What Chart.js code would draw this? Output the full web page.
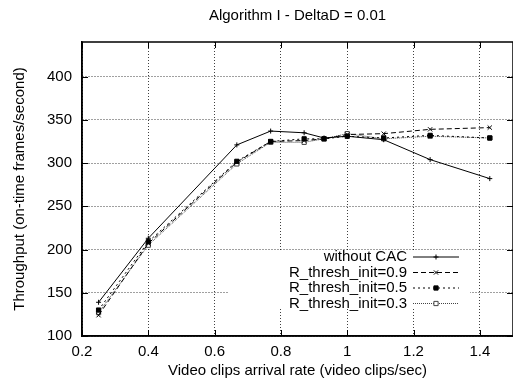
<!DOCTYPE html>
<html>
<head>
  <title>Algorithm I - DeltaD = 0.01</title>
  <style>
    body { margin: 0; overflow: hidden; background: #fff; }
    #wrap { width: 518px; height: 379px; }
  </style>
</head>
<body>
  <div id="wrap"><canvas id="chart" width="518" height="379"></canvas></div>

  <script src="https://cdn.jsdelivr.net/npm/chart.js"></script>
  <script>
    // arrival rates (video clips/sec)
    const rates = [0.25, 0.4, 0.667, 0.769, 0.87, 0.93, 1.0, 1.11, 1.25, 1.43];
    // throughput (on-time frames/second)
    const without_cac = [139, 213, 321, 337, 335, 329, 331, 327, 304, 282];
    const thresh_09 = [124, 207, 301, 325, 326, 328, 333, 334, 339, 341];
    const thresh_05 = [130, 209, 302, 325, 328, 328, 331, 329, 332, 329];
    const thresh_03 = [127, 205, 299, 324, 324, 328, 334, 328, 331, 329];
    const labels = ['without CAC', 'R_thresh_init=0.9', 'R_thresh_init=0.5', 'R_thresh_init=0.3'];
    const x_ticks = [0.2, 0.4, 0.6, 0.8, 1, 1.2, 1.4];
    const y_ticks = [100, 150, 200, 250, 300, 350, 400];

    const FONT = 'Liberation Sans, Arial, Helvetica, sans-serif';
    const pts = ys => rates.map((x, i) => ({x: x, y: ys[i]}));

    const styles = [
      {color: '#000', dash: [], pointStyle: 'cross', radius: 2.5, fill: '#000'},
      {color: '#000', dash: [5, 3], pointStyle: 'crossRot', radius: 3, fill: '#000'},
      {color: '#000', dash: [2, 3], pointStyle: 'rect', radius: 3, fill: '#000'},
      {color: '#444', dash: [1, 1], pointStyle: 'rect', radius: 3, fill: '#fff'},
    ];

    const make_dataset = (ys, i) => ({
      label: labels[i],
      data: pts(ys),
      borderColor: styles[i].color,
      borderWidth: 1,
      borderDash: styles[i].dash,
      pointStyle: styles[i].pointStyle,
      pointRadius: styles[i].radius,
      pointBorderColor: styles[i].color,
      pointBackgroundColor: styles[i].fill,
      pointBorderWidth: 1,
      tension: 0,
    });

    // gnuplot-like frame, inward ticks and key
    const frame = {
      id: 'frame',
      beforeDatasetsDraw(chart) {
        const ctx = chart.ctx;
        ctx.save();
        ctx.fillStyle = '#fff';
        ctx.fillRect(228, 252, 242, 57);
        ctx.restore();
      },
      afterDraw(chart) {
        const ctx = chart.ctx;
        const a = chart.chartArea;
        const xs = chart.scales.x, ys = chart.scales.y;
        ctx.save();
        ctx.strokeStyle = '#000';
        ctx.lineWidth = 1;
        ctx.beginPath();
        xs.ticks.forEach(t => {
          const px = Math.round(xs.getPixelForValue(t.value)) + 0.5;
          ctx.moveTo(px, a.bottom); ctx.lineTo(px, a.bottom - 6);
          ctx.moveTo(px, a.top); ctx.lineTo(px, a.top + 6);
        });
        ys.ticks.forEach(t => {
          const py = Math.round(ys.getPixelForValue(t.value)) + 0.5;
          ctx.moveTo(a.left, py); ctx.lineTo(a.left + 6, py);
          ctx.moveTo(a.right, py); ctx.lineTo(a.right - 6, py);
        });
        ctx.stroke();
        ctx.lineWidth = 1.5;
        ctx.strokeRect(a.left, a.top, a.right - a.left, a.bottom - a.top);

        // key
        ctx.font = '15px ' + FONT;
        ctx.fillStyle = '#000';
        ctx.textAlign = 'right';
        ctx.textBaseline = 'middle';
        const rows = [257, 272.5, 288, 303.5];
        chart.data.datasets.forEach((ds, i) => {
          const y = rows[i];
          ctx.fillText(ds.label, 407, y);
          ctx.save();
          ctx.strokeStyle = styles[i].color;
          ctx.lineWidth = 1;
          ctx.setLineDash(styles[i].dash);
          ctx.beginPath();
          ctx.moveTo(413, y); ctx.lineTo(459, y);
          ctx.stroke();
          ctx.restore();
          ctx.save();
          ctx.strokeStyle = styles[i].color;
          ctx.fillStyle = styles[i].fill;
          ctx.lineWidth = 1;
          Chart.helpers.drawPoint(ctx, {pointStyle: styles[i].pointStyle, radius: styles[i].radius, borderWidth: 1}, 436, y);
          ctx.restore();
        });
        ctx.restore();
      }
    };

    new Chart(document.getElementById('chart'), {
      type: 'line',
      data: {
        datasets: [
          make_dataset(without_cac, 0),
          make_dataset(thresh_09, 1),
          make_dataset(thresh_05, 2),
          make_dataset(thresh_03, 3),
        ]
      },
      options: {
        responsive: false,
        animation: false,
        layout: {padding: 0},
        plugins: {
          legend: {display: false},
          tooltip: {enabled: false},
          title: {
            display: true,
            text: 'Algorithm I - DeltaD = 0.01',
            fullSize: false,
            color: '#000',
            font: {family: FONT, size: 15, weight: 'normal'},
            padding: {top: 7, bottom: 17},
          },
        },
        scales: {
          x: {
            type: 'linear',
            min: 0.2,
            max: 1.5,
            afterBuildTicks: s => { s.ticks = x_ticks.map(v => ({value: v})); },
            afterFit: s => { s.height = 43; },
            ticks: {
              color: '#000',
              padding: 7,
              maxRotation: 0,
              font: {family: FONT, size: 15},
              callback: v => String(v),
            },
            grid: {color: 'rgba(0,0,0,0.75)', lineWidth: 1, drawTicks: false},
            border: {display: true, color: '#000', width: 1.5, dash: [1, 2]},
            title: {
              display: true,
              text: 'Video clips arrival rate (video clips/sec)',
              color: '#000',
              font: {family: FONT, size: 15},
              padding: {top: 0, bottom: -1},
            },
          },
          y: {
            min: 100,
            max: 440,
            afterBuildTicks: s => { s.ticks = y_ticks.map(v => ({value: v})); },
            afterFit: s => { s.width = 82; },
            ticks: {
              color: '#000',
              padding: 10,
              font: {family: FONT, size: 15},
            },
            grid: {color: 'rgba(0,0,0,0.75)', lineWidth: 1, drawTicks: false},
            border: {display: true, color: '#000', width: 1.5, dash: [1, 2]},
            title: {
              display: true,
              text: 'Throughput (on-time frames/second)',
              color: '#000',
              font: {family: FONT, size: 15},
              padding: {top: 10.5, bottom: 0},
            },
          },
        },
      },
      plugins: [frame],
    });
  </script>
</body>
</html>
